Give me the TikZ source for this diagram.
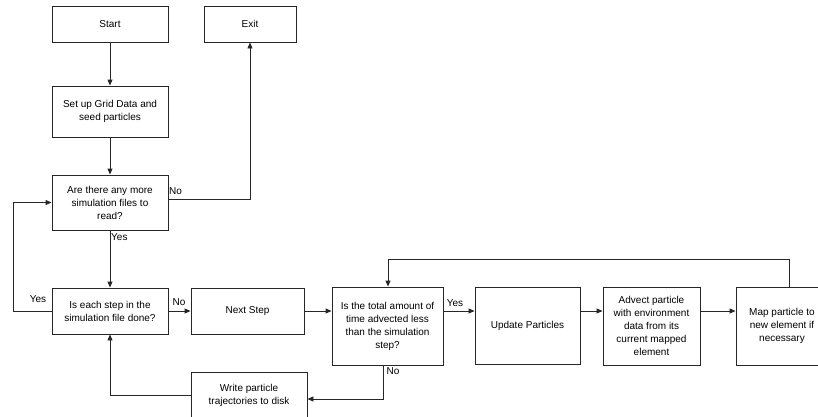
\documentclass[tikz,border=0pt]{standalone}
\usepackage{fontspec}
\setmainfont{Liberation Sans}
\usetikzlibrary{arrows.meta}
\begin{document}
\begin{tikzpicture}[x=1pt,y=-1pt,
  box/.style={draw=black!85,line width=0.9pt,rectangle,align=center,inner sep=2pt,
    font=\fontsize{10}{13}\selectfont},
  conn/.style={draw=black!85,line width=0.9pt,-{Triangle[length=6pt,width=5pt]}},
  lbl/.style={font=\fontsize{10}{12}\selectfont,inner sep=0pt}]
\useasboundingbox (0,0) rectangle (818,416);
\node[box,minimum width=116pt,minimum height=36pt] (start) at (110,24) {Start};
\node[box,minimum width=92pt,minimum height=36pt] (exit) at (250,24) {Exit};
\node[box,minimum width=116pt,minimum height=51pt] (setup) at (110,111.5) {Set up Grid Data and\\seed particles};
\node[box,minimum width=116pt,minimum height=55pt] (q1) at (110,202.5) {Are there any more\\simulation files to\\read?};
\node[box,minimum width=116pt,minimum height=46pt] (q2) at (110,311) {Is each step in the\\simulation file done?};
\node[box,minimum width=113pt,minimum height=46pt] (next) at (247.5,311) {Next Step};
\node[box,minimum width=111pt,minimum height=78pt] (q3) at (387.5,326) {Is the total amount of\\time advected less\\than the simulation\\step?};
\node[box,minimum width=105pt,minimum height=77pt] (update) at (527.5,326) {Update Particles};
\node[box,minimum width=97pt,minimum height=78pt] (advect) at (651.5,326) {Advect particle\\with environment\\data from its\\current mapped\\element};
\node[box,minimum width=92pt,minimum height=78pt] (map) at (782,326) {Map particle to\\new element if\\necessary};
\node[box,minimum width=116pt,minimum height=46pt] (write) at (249,395) {Write particle\\trajectories to disk};

\coordinate (c1) at (13,311);
\coordinate (c2) at (13,202.5);
\coordinate (q1out) at (168,199);
\coordinate (maptop) at (789,287);
\coordinate (c3) at (789,259);
\coordinate (c4) at (388,259);
\coordinate (q3bot) at (383,365);
\coordinate (c5) at (383,399);
\coordinate (c6) at (110,395);
\coordinate (row) at (0,311);

\draw[conn] (start) -- (setup);
\draw[conn] (setup) -- (q1);
\draw[conn] (q1.east |- q1out) -| (exit.south);
\draw[conn] (q1) -- (q2);
\draw[conn] (q2.west) -- (c1) -- (c2) -- (q1.west);
\draw[conn] (q2) -- (next);
\draw[conn] (next.east) -- (q3.west |- row);
\draw[conn] (q3.east |- row) -- (update.west |- row);
\draw[conn] (update.east |- row) -- (advect.west |- row);
\draw[conn] (advect.east |- row) -- (map.west |- row);
\draw[conn] (maptop) -- (c3) -- (c4) -- (c4 |- q3.north);
\draw[conn] (q3bot) -- (c5) -- (c5 -| write.east);
\draw[conn] (write.west) -- (c6) -- (q2.south);

\node[lbl,anchor=west] (lno1) at (169,191) {No};
\node[lbl,anchor=west] (lyes1) at (111,237) {Yes};
\node[lbl] (lyes2) at (38,299) {Yes};
\node[lbl] (lno2) at (179,302) {No};
\node[lbl] (lyes3) at (455,303) {Yes};
\node[lbl] (lno3) at (393,371) {No};
\end{tikzpicture}
\end{document}
